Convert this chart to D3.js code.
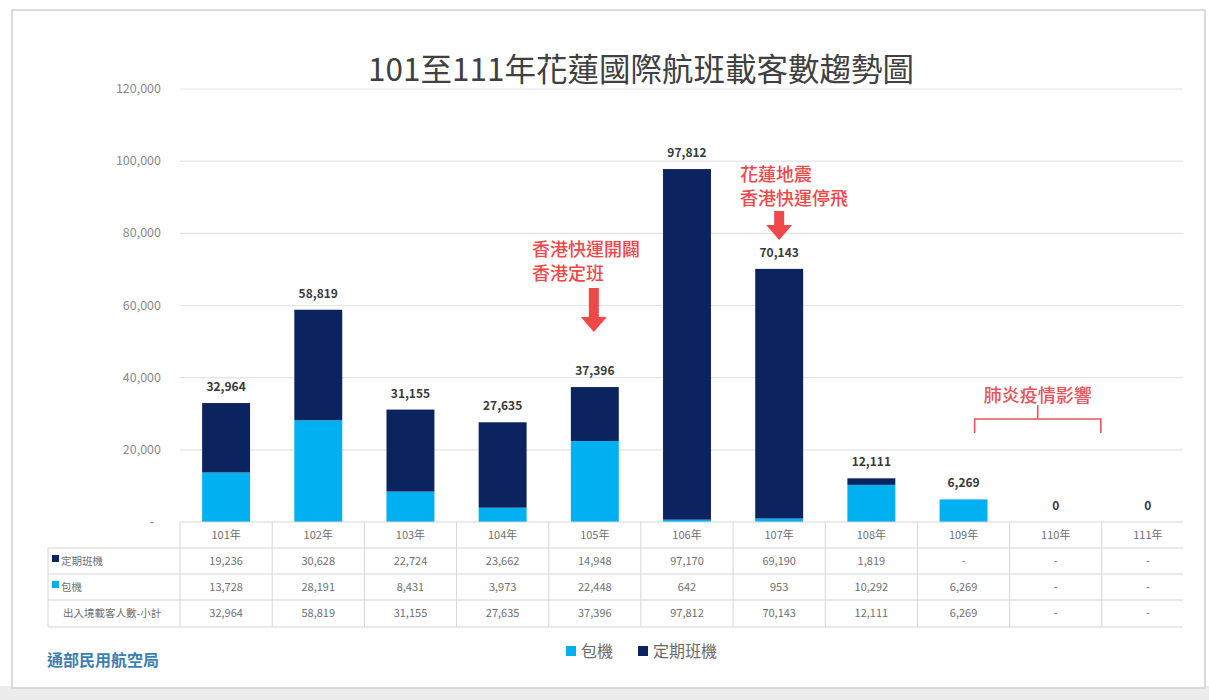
<!DOCTYPE html>
<html>
<head>
<meta charset="utf-8">
<script src="https://cdn.jsdelivr.net/npm/d3@7"></script>
<style>
  html, body { margin: 0; padding: 0; background: #fff; }
  body { font-family: "Noto Sans CJK TC", "Noto Sans", sans-serif; }
  svg text { font-family: "Noto Sans CJK TC", "Noto Sans", sans-serif; }
</style>
</head>
<body>
<div id="chart"></div>
<script>
// 資料
const years = ["101年", "102年", "103年", "104年", "105年", "106年", "107年", "108年", "109年", "110年", "111年"];
const scheduled = [19236, 30628, 22724, 23662, 14948, 97170, 69190, 1819, 0, 0, 0];   // 定期班機
const charter   = [13728, 28191, 8431, 3973, 22448, 642, 953, 10292, 6269, 0, 0];     // 包機
const totals    = [32964, 58819, 31155, 27635, 37396, 97812, 70143, 12111, 6269, 0, 0];
const yTicks = [0, 20000, 40000, 60000, 80000, 100000, 120000];

const W = 1209, H = 700;
const C_CHARTER = "#00b0f0", C_SCHED = "#0b2460", C_RED = "#f04848";
const m = { l: 180, t: 89, b: 178 };
const xEnd = 1194, clipR = 1183;   // 最後一欄被裁切

const svg = d3.select("#chart").append("svg").attr("width", W).attr("height", H);

// 外框 + 陰影
svg.append("rect").attr("x", 0).attr("y", 686).attr("width", W).attr("height", 14).attr("fill", "#ececec");
svg.append("rect").attr("x", 12).attr("y", 10).attr("width", W - 16).attr("height", 678)
  .attr("fill", "#fff").attr("stroke", "#cfcfcf").attr("stroke-width", 1.5);

const x = d3.scaleBand().domain(years).range([m.l, xEnd]).paddingInner(0.48).paddingOuter(0.24);
const xCol = d3.scaleBand().domain(years).range([m.l, xEnd]);
const y = d3.scaleLinear().domain([0, 120000]).range([H - m.b, m.t]);

// title
svg.append("text").attr("x", 641).attr("y", 81).attr("text-anchor", "middle")
  .attr("font-size", 31.5).attr("fill", "#404040").text("101至111年花蓮國際航班載客數趨勢圖");

// grid
svg.append("g").selectAll("line").data(yTicks.filter(d => d > 0)).join("line")
  .attr("x1", m.l).attr("x2", clipR).attr("y1", d => y(d)).attr("y2", d => y(d))
  .attr("stroke", "#e3e3e3").attr("stroke-width", 1.2);

// y axis labels
svg.append("g").selectAll("text").data(yTicks).join("text")
  .attr("x", d => d === 0 ? 154 : 161).attr("y", d => y(d) + 4)
  .attr("text-anchor", "end").attr("font-size", 12.5).attr("fill", "#8a8a8a")
  .text(d => d === 0 ? "-" : d3.format(",")(d));

// stacked bars
const stack = years.map((k, i) => ({ k, charter: charter[i], sched: scheduled[i], total: totals[i] }));
const g = svg.append("g");
g.selectAll("rect.c").data(stack).join("rect").attr("class", "c")
  .attr("x", d => x(d.k)).attr("width", x.bandwidth())
  .attr("y", d => y(d.charter)).attr("height", d => y(0) - y(d.charter))
  .attr("fill", C_CHARTER);
g.selectAll("rect.s").data(stack).join("rect").attr("class", "s")
  .attr("x", d => x(d.k)).attr("width", x.bandwidth())
  .attr("y", d => y(d.charter + d.sched)).attr("height", d => y(d.charter) - y(d.charter + d.sched))
  .attr("fill", C_SCHED);

// value labels
g.selectAll("text.v").data(stack).join("text").attr("class", "v")
  .attr("x", d => x(d.k) + x.bandwidth() / 2).attr("y", d => y(d.total) - 12)
  .attr("text-anchor", "middle").attr("font-size", 12).attr("font-weight", "bold")
  .attr("fill", "#3a3a3a").text(d => d3.format(",")(d.total));

// data table
const rowY = [522, 548, 574, 600, 627];
const tg = svg.append("g");
const gridC = "#d6d6d6";
[548, 574, 600, 627].forEach(yy => {
  tg.append("line").attr("x1", 48).attr("x2", clipR).attr("y1", yy).attr("y2", yy).attr("stroke", gridC);
});
tg.append("line").attr("x1", m.l).attr("x2", clipR).attr("y1", 522).attr("y2", 522).attr("stroke", gridC);
tg.selectAll("line.v").data(years.map(k => xCol(k))).join("line").attr("class", "v")
  .attr("x1", d => d).attr("x2", d => d).attr("y1", 522).attr("y2", 627).attr("stroke", gridC);
tg.append("line").attr("x1", 48).attr("x2", 48).attr("y1", 548).attr("y2", 627).attr("stroke", gridC);

const fmt = v => v === 0 ? "-" : d3.format(",")(v);
const rows = [
  { label: "定期班機", vals: scheduled, sw: C_SCHED },
  { label: "包機", vals: charter, sw: C_CHARTER },
  { label: "出入境載客人數-小計", vals: totals, sw: null }
];
tg.selectAll("text.h").data(years).join("text").attr("class", "h")
  .attr("x", d => xCol(d) + xCol.bandwidth() / 2).attr("y", 539)
  .attr("text-anchor", "middle").attr("font-size", 11).attr("fill", "#707070").text(d => d);
rows.forEach((r, ri) => {
  const cy = rowY[ri + 1] + 17;
  if (r.sw) tg.append("rect").attr("x", 52).attr("y", cy - 10).attr("width", 7).attr("height", 7).attr("fill", r.sw);
  tg.append("text").attr("x", r.sw ? 61 : 63).attr("y", cy).attr("font-size", 10.5).attr("fill", "#707070").text(r.label);
  tg.selectAll(null).data(years).join("text")
    .attr("x", d => xCol(d) + xCol.bandwidth() / 2).attr("y", cy)
    .attr("text-anchor", "middle").attr("font-size", 11).attr("fill", "#707070")
    .text((d, i) => fmt(r.vals[i]));
});

// legend
const lg = svg.append("g").attr("transform", "translate(566,653)");
[{ t: "包機", c: C_CHARTER, dx: 0 }, { t: "定期班機", c: C_SCHED, dx: 72 }].forEach(d => {
  lg.append("rect").attr("x", d.dx).attr("y", -7).attr("width", 10).attr("height", 10).attr("fill", d.c);
  lg.append("text").attr("x", d.dx + 15).attr("y", 4).attr("font-size", 16).attr("fill", "#6a6a6a").text(d.t);
});

// source
svg.append("text").attr("x", 47).attr("y", 666).attr("font-size", 16).attr("font-weight", "bold")
  .attr("fill", "#3d7fb5").text("通部民用航空局");

// annotations
function arrow(cx, y0, y1) {
  const a = svg.append("g").attr("fill", C_RED);
  a.append("rect").attr("x", cx - 5).attr("y", y0).attr("width", 10).attr("height", y1 - y0 - 14);
  a.append("path").attr("d", `M${cx - 13},${y1 - 15} L${cx + 13},${y1 - 15} L${cx},${y1} Z`);
}
const cx105 = x("105年") + x.bandwidth() / 2;
const cx107 = x("107年") + x.bandwidth() / 2;
const ann = svg.append("g").attr("fill", C_RED).attr("font-size", 18).attr("font-weight", 500);
ann.append("text").attr("x", 532).attr("y", 256).text("香港快運開闢");
ann.append("text").attr("x", 532).attr("y", 280).text("香港定班");
arrow(cx105 - 1, 288, 332);
ann.append("text").attr("x", 740).attr("y", 181).text("花蓮地震");
ann.append("text").attr("x", 740).attr("y", 205).text("香港快運停飛");
arrow(cx107, 211, 240);

// bracket (110年–111年)
const bx0 = xCol("110年") - 35, bx1 = xCol("111年") - 1;
const bm = (bx0 + bx1) / 2;
ann.append("text").attr("x", bm).attr("y", 402).attr("text-anchor", "middle").attr("fill", "#e8525a").text("肺炎疫情影響");
svg.append("path")
  .attr("d", `M${bx0},${433} L${bx0},${419} L${bx1},${419} L${bx1},${433} M${bm},${419} L${bm},${405}`)
  .attr("fill", "none").attr("stroke", "#e05a5a").attr("stroke-width", 1.6);
</script>
</body>
</html>
